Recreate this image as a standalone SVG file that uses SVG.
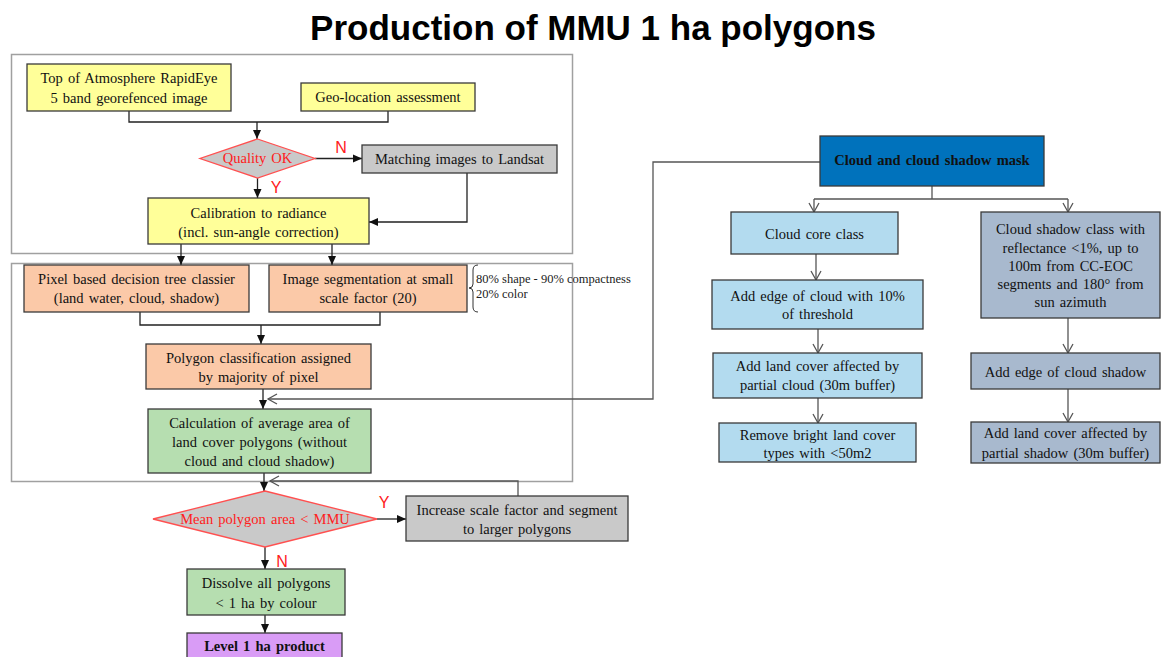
<svg xmlns="http://www.w3.org/2000/svg" width="1164" height="657" viewBox="0 0 1164 657">
<defs>
<style>
.t{font-family:"Liberation Serif","Times New Roman",serif;font-size:14.5px;fill:#111;text-anchor:middle;word-spacing:1.5px}
.b{font-weight:bold}
.red{fill:#ff2020}
.lab{font-family:"Liberation Sans",Arial,sans-serif;font-size:16px;fill:#ff2020;text-anchor:middle}
.box{stroke:#3a3a3a;stroke-width:1.3}
.yel{fill:#ffff99}
.org{fill:#fbc9a8}
.grn{fill:#b6deb0}
.gry{fill:#c9c9c9}
.pur{fill:#d99cf6}
.blu{fill:#0072bc}
.lbl{fill:#b3dbef}
.sbl{fill:#a8b9ce}
.dia{fill:#c9c9c9;stroke:#ff5050;stroke-width:1.3}
.frame{fill:none;stroke:#a0a0a0;stroke-width:1.5}
.c{fill:none;stroke:#222;stroke-width:1.3}
.cg{fill:none;stroke:#555;stroke-width:1.3}
</style>
<marker id="af" markerUnits="userSpaceOnUse" markerWidth="10" markerHeight="10" viewBox="0 0 10 10" refX="9" refY="5" orient="auto">
<path d="M0,1 L9,5 L0,9 Z" fill="#111"/>
</marker>
<marker id="ao" markerUnits="userSpaceOnUse" markerWidth="12" markerHeight="12" viewBox="0 0 12 12" refX="10" refY="6" orient="auto">
<path d="M1,1 L10,6 L1,11" fill="none" stroke="#555" stroke-width="1.3"/>
</marker>
</defs>
<rect width="1164" height="657" fill="#fff"/>
<text x="593" y="40" font-family="Liberation Sans, Arial, sans-serif" font-size="35" font-weight="bold" text-anchor="middle" fill="#000">Production of MMU 1 ha polygons</text>
<g id="frames">
<rect class="frame" x="11.5" y="54.5" width="561" height="199"/>
<rect class="frame" x="11.5" y="263.5" width="561" height="218"/>
</g>
<g id="connectors">
<path class="c" d="M129,111 V122 H388 V111"/>
<path class="c" d="M257,122 V139" marker-end="url(#af)"/>
<path class="c" d="M315,158.5 H362" marker-end="url(#af)"/>
<path class="c" d="M257.5,178 V198" marker-end="url(#af)"/>
<path class="c" d="M467,173 V222 H369" marker-end="url(#af)"/>
<path class="c" d="M181,244 V265" marker-end="url(#af)"/>
<path class="c" d="M332,244 V265" marker-end="url(#af)"/>
<path class="c" d="M140,312 V325 H380 V312"/>
<path class="c" d="M261,325 V344" marker-end="url(#af)"/>
<path class="c" d="M263,389 V409" marker-end="url(#af)"/>
<path class="cg" d="M820,162 H653 V399 H268" marker-end="url(#ao)"/>
<path class="c" d="M264,473 V491" marker-end="url(#af)"/>
<path class="cg" d="M518,496 V481 H270" marker-end="url(#ao)"/>
<path class="c" d="M377,519 H406" marker-end="url(#af)"/>
<path class="c" d="M265,547 V569" marker-end="url(#af)"/>
<path class="c" d="M265,615 V633" marker-end="url(#af)"/>
<path class="cg" d="M932,186 V199"/>
<path class="cg" d="M814,199 H1068"/>
<path class="cg" d="M814,199 V212" marker-end="url(#ao)"/>
<path class="cg" d="M1068,199 V212" marker-end="url(#ao)"/>
<path class="cg" d="M816,254 V280" marker-end="url(#ao)"/>
<path class="cg" d="M818,329 V353" marker-end="url(#ao)"/>
<path class="cg" d="M818,398 V423" marker-end="url(#ao)"/>
<path class="cg" d="M1068,318 V353" marker-end="url(#ao)"/>
<path class="cg" d="M1068,389 V422" marker-end="url(#ao)"/>
</g>
<g id="labels">
<text class="lab" x="341" y="153">N</text>
<text class="lab" x="276" y="193">Y</text>
<text class="lab" x="384" y="508">Y</text>
<text class="lab" x="282" y="567">N</text>
</g>
<g id="toa">
<rect class="box yel" x="27" y="64" width="204" height="47"/>
<text class="t" x="129" y="83">Top of Atmosphere RapidEye</text>
<text class="t" x="129" y="103">5 band georefenced image</text>
</g>
<g id="geo">
<rect class="box yel" x="301" y="83" width="174" height="28"/>
<text class="t" x="388" y="102">Geo-location assessment</text>
</g>
<g id="quality">
<polygon class="dia" points="257.5,139 315,158.5 257.5,178 200,158.5"/>
<text class="t red" x="257.5" y="163">Quality OK</text>
</g>
<g id="matching">
<rect class="box gry" x="362" y="145" width="195" height="28"/>
<text class="t" x="459.5" y="164">Matching images to Landsat</text>
</g>
<g id="calibration">
<rect class="box yel" x="148" y="198" width="221" height="46"/>
<text class="t" x="258.5" y="218">Calibration to radiance</text>
<text class="t" x="258.5" y="237">(incl. sun-angle correction)</text>
</g>
<g id="pixel">
<rect class="box org" x="24" y="265" width="225" height="47"/>
<text class="t" x="136.5" y="284">Pixel based decision tree classier</text>
<text class="t" x="136.5" y="303">(land water, cloud, shadow)</text>
</g>
<g id="segmentation">
<rect class="box org" x="269" y="265" width="198" height="47"/>
<text class="t" x="368" y="284">Image segmentation at small</text>
<text class="t" x="368" y="303">scale factor (20)</text>
</g>
<g id="params">
<path d="M478,265 Q473,265 473,270 L473,284 Q473,288 469,288 Q473,288 473,292 L473,307 Q473,312 478,312" fill="none" stroke="#333" stroke-width="1"/>
<text x="476" y="283" font-family="Liberation Serif, Times New Roman, serif" font-size="12.5" fill="#222">80% shape - 90% compactness</text>
<text x="476" y="298" font-family="Liberation Serif, Times New Roman, serif" font-size="12.5" fill="#222">20% color</text>
</g>
<g id="polyclass">
<rect class="box org" x="146" y="344" width="225" height="45"/>
<text class="t" x="258.5" y="363">Polygon classification assigned</text>
<text class="t" x="258.5" y="382">by majority of pixel</text>
</g>
<g id="calculation">
<rect class="box grn" x="148" y="409" width="223" height="64"/>
<text class="t" x="259.5" y="428">Calculation of average area of</text>
<text class="t" x="259.5" y="447">land cover polygons (without</text>
<text class="t" x="259.5" y="466">cloud and cloud shadow)</text>
</g>
<g id="meanpoly">
<polygon class="dia" points="265,491 377,519 265,547 153,519"/>
<text class="t red" x="265" y="524">Mean polygon area &lt; MMU</text>
</g>
<g id="increase">
<rect class="box gry" x="406" y="496" width="222" height="45"/>
<text class="t" x="517" y="515">Increase scale factor and segment</text>
<text class="t" x="517" y="534">to larger polygons</text>
</g>
<g id="dissolve">
<rect class="box grn" x="187" y="569" width="158" height="46"/>
<text class="t" x="266" y="588">Dissolve all polygons</text>
<text class="t" x="266" y="608">&lt; 1 ha by colour</text>
</g>
<g id="level">
<rect class="box pur" x="187" y="633" width="155" height="40"/>
<text class="t b" x="264.5" y="651">Level 1 ha product</text>
</g>
<g id="cloudmask">
<rect class="box blu" x="820" y="136" width="224" height="50"/>
<text class="t b" x="932" y="165">Cloud and cloud shadow mask</text>
</g>
<g id="cloudcore">
<rect class="box lbl" x="731" y="212" width="167" height="42"/>
<text class="t" x="814.5" y="239">Cloud core class</text>
</g>
<g id="addedge">
<rect class="box lbl" x="712" y="280" width="211" height="49"/>
<text class="t" x="817.5" y="301">Add edge of cloud with 10%</text>
<text class="t" x="817.5" y="319">of threshold</text>
</g>
<g id="partialcloud">
<rect class="box lbl" x="713" y="353" width="209" height="45"/>
<text class="t" x="817.5" y="371">Add land cover affected by</text>
<text class="t" x="817.5" y="390">partial cloud (30m buffer)</text>
</g>
<g id="remove">
<rect class="box lbl" x="719" y="423" width="197" height="39"/>
<text class="t" x="817.5" y="440">Remove bright land cover</text>
<text class="t" x="817.5" y="458">types with &lt;50m2</text>
</g>
<g id="shadowclass">
<rect class="box sbl" x="981" y="212" width="179" height="106"/>
<text class="t" x="1070.5" y="234">Cloud shadow class with</text>
<text class="t" x="1070.5" y="253">reflectance &lt;1%, up to</text>
<text class="t" x="1070.5" y="271">100m from CC-EOC</text>
<text class="t" x="1070.5" y="289">segments and 180° from</text>
<text class="t" x="1070.5" y="307">sun azimuth</text>
</g>
<g id="edgeshadow">
<rect class="box sbl" x="971" y="353" width="189" height="36"/>
<text class="t" x="1065.5" y="377">Add edge of cloud shadow</text>
</g>
<g id="partialshadow">
<rect class="box sbl" x="971" y="422" width="189" height="41"/>
<text class="t" x="1065.5" y="438">Add land cover affected by</text>
<text class="t" x="1065.5" y="458">partial shadow (30m buffer)</text>
</g>
</svg>
